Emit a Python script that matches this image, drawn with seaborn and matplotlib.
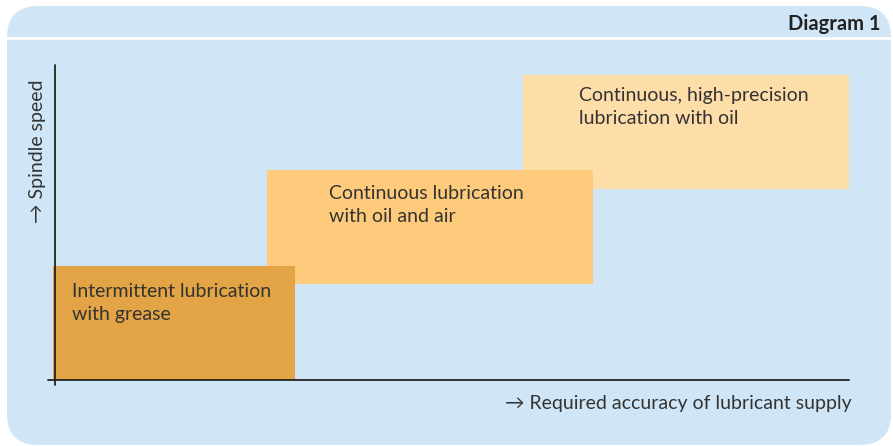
import matplotlib
matplotlib.use("Agg")
import matplotlib.pyplot as plt
from matplotlib.patches import FancyBboxPatch
import seaborn as sns

sns.set_theme(style="white")
plt.rcParams['font.family'] = ['Lato', 'DejaVu Sans']

# lubrication regimes: accuracy range (x) and speed range (y), arbitrary units
labels = [
    "Intermittent lubrication\nwith grease",
    "Continuous lubrication\nwith oil and air",
    "Continuous, high-precision\nlubrication with oil",
]
x_start = [-0.03, 2.67, 5.90]
x_end = [3.02, 6.78, 10.0]
y_start = [0.0, 1.22, 2.43]
y_end = [1.45, 2.67, 3.87]
box_colors = ["#E2A444", "#FDCB7B", "#FDDDA8"]

text_col = "#333333"
panel_col = "#D0E6F6"
fs = 14

W, H = 893, 446
fig = plt.figure(figsize=(W / 100, H / 100), dpi=100)
fig.patch.set_facecolor("white")

# rounded background panel
panel = FancyBboxPatch((7 / W, 1 - 445 / H), (891 - 7) / W, (445 - 6) / H,
                       boxstyle="round,pad=0,rounding_size=0.035",
                       transform=fig.transFigure, facecolor=panel_col,
                       edgecolor="none", mutation_aspect=W / H, zorder=-10)
fig.patches.append(panel)
# white separator under header
fig.add_artist(plt.Line2D([7 / W, 891 / W], [1 - 38 / H, 1 - 38 / H],
                          transform=fig.transFigure, color="white", lw=2,
                          zorder=-5))
fig.text(881 / W, 1 - 24 / H, "Diagram 1", ha="right", va="center",
         fontsize=14.5, fontweight="bold", color="#222222")

# axes: origin at (55, 380) px, top at 65 px, right at 849 px
ax = fig.add_axes([55 / W, 1 - 380 / H, (849 - 55) / W, (380 - 65) / H])
ax.set_xlim(0, 10)
ax.set_ylim(0, 4)
ax.set_facecolor("none")
for s in ax.spines.values():
    s.set_visible(False)
ax.set_xticks([])
ax.set_yticks([])

# text offsets inside each box (axis units)
pad_x = [0.25, 0.78, 0.70]
pad_y = [0.22, 0.20, 0.15]

# draw from back (top-right) to front (bottom-left)
for i in [2, 1, 0]:
    ax.bar(x_start[i], y_end[i] - y_start[i], width=x_end[i] - x_start[i],
           bottom=y_start[i], align="edge", color=box_colors[i],
           edgecolor="none", clip_on=False, zorder=1 + (2 - i))
    ax.text(x_start[i] + pad_x[i], y_end[i] - pad_y[i], labels[i],
            ha="left", va="top", fontsize=fs, color=text_col,
            linespacing=1.4, zorder=10)

ax.plot([0, 0], [-0.06, 4], color="#222222", lw=1.3, clip_on=False, zorder=11)
ax.plot([-0.09, 10], [0, 0], color="#222222", lw=1.3, clip_on=False, zorder=11)

fig.text(852 / W, 1 - 404 / H, "\u2192 Required accuracy of lubricant supply",
         ha="right", va="center", fontsize=fs, color=text_col)
fig.text(38 / W, 1 - 151 / H, "\u2192 Spindle speed", ha="center", va="center",
         rotation=90, fontsize=fs, color=text_col)

fig.savefig("out.png", dpi=100)
